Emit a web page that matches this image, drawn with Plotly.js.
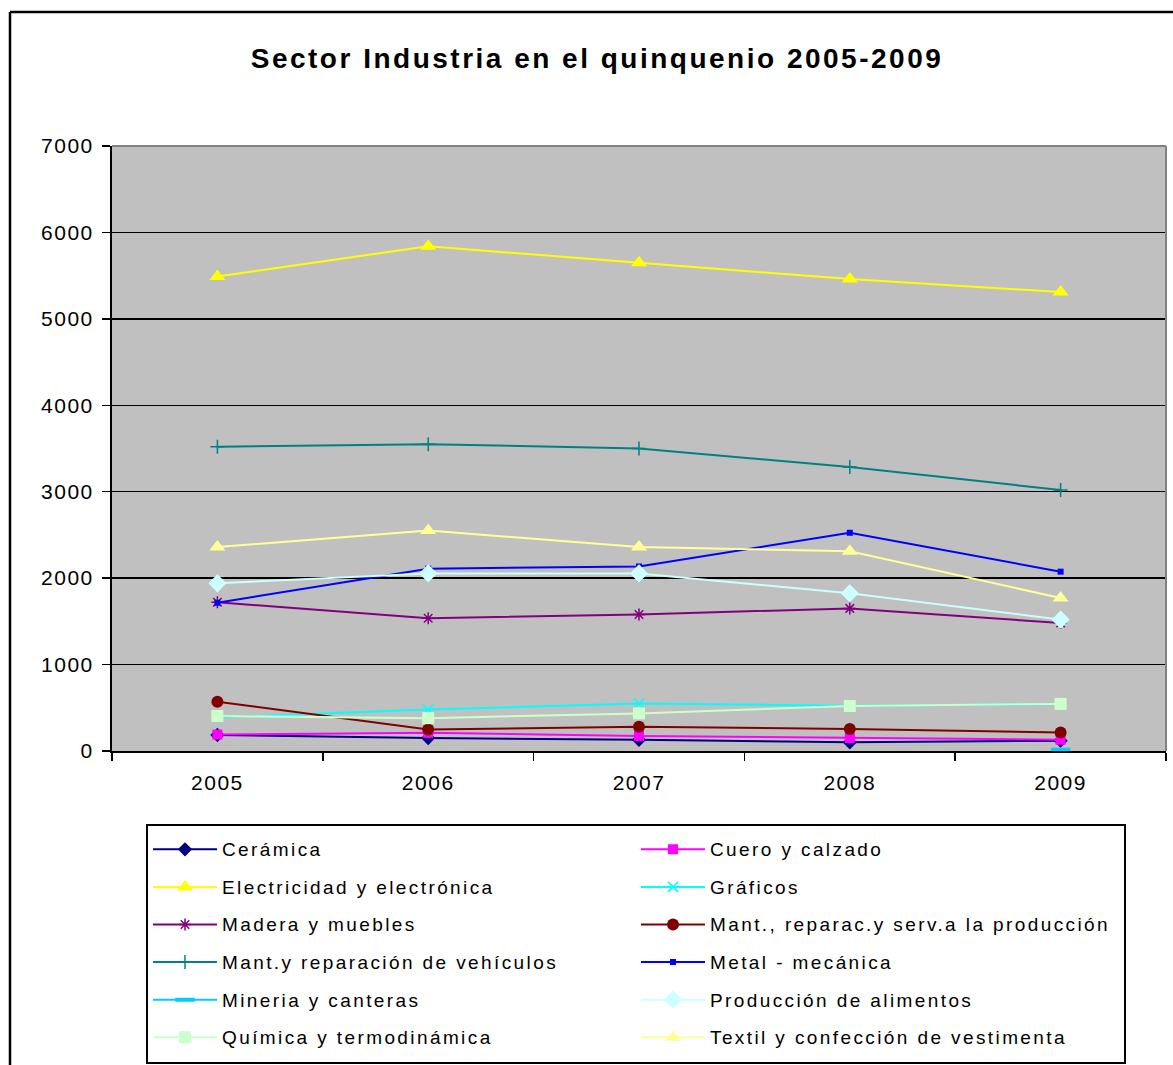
<!DOCTYPE html>
<html><head><meta charset="utf-8">
<script src="https://cdn.plot.ly/plotly-3.0.1.min.js"></script>
<style>
html,body{margin:0;padding:0;background:#fff;}
#chart{width:1173px;height:1065px;}
#chart .legendtext{letter-spacing:2.4px;}
#chart .xtick text,#chart .ytick text{letter-spacing:1.5px;}
#chart .gtitle{letter-spacing:2.5px;}
</style></head><body><div id="chart"></div>
<script>
// ---- data ----
const years = ['2005', '2006', '2007', '2008', '2009'];
const yTickValues = [0, 1000, 2000, 3000, 4000, 5000, 6000, 7000];

const ceramica      = [185, 150, 130, 100, 120];
const cuero         = [190, 210, 175, 150, 130];
const electricidad  = [5490, 5840, 5650, 5460, 5310];
const graficos      = [390, 480, 550, 525, 540];
const madera        = [1720, 1535, 1580, 1650, 1480];
const mantReparac   = [570, 250, 280, 255, 215];
const mantVehiculos = [3520, 3550, 3500, 3285, 3020];
const metal         = [1715, 2110, 2135, 2525, 2075];
const mineria       = [null, null, null, null, 15];
const produccion    = [1940, 2055, 2055, 1825, 1520];
const quimica       = [405, 380, 435, 520, 545];
const textil        = [2360, 2550, 2360, 2310, 1770];

const seriesNames = [
  'Cerámica', 'Cuero y calzado',
  'Electricidad y electrónica', 'Gráficos',
  'Madera y muebles', 'Mant., reparac.y serv.a la producción',
  'Mant.y reparación de vehículos', 'Metal - mecánica',
  'Mineria y canteras', 'Producción de alimentos',
  'Química y termodinámica', 'Textil y confección de vestimenta'
];
const seriesValues = [ceramica, cuero, electricidad, graficos, madera, mantReparac,
  mantVehiculos, metal, mineria, produccion, quimica, textil];

// ---- styles ----
const styles = [
  {color: '#000080', symbol: 'diamond', size: 11},
  {color: '#FF00FF', symbol: 'square', size: 10},
  {color: '#FFFF00', symbol: 'triangle-up', size: 14},
  {color: '#00FFFF', symbol: 'x-thin-open', size: 10, lw: 1.5},
  {color: '#800080', symbol: 'asterisk-open', size: 10, lw: 1.5},
  {color: '#800000', symbol: 'circle', size: 12},
  {color: '#008080', symbol: 'cross-thin-open', size: 10, lw: 1.5},
  {color: '#0000FF', symbol: 'square', size: 6},
  {color: '#00CCFF', symbol: 'line-ew-open', size: 14, lw: 4},
  {color: '#CCFFFF', symbol: 'diamond', size: 14},
  {color: '#CCFFCC', symbol: 'square', size: 12},
  {color: '#FFFF99', symbol: 'triangle-up', size: 14}
];

const FONT = 'Liberation Sans, Arial, sans-serif';
const W = 1173, H = 1065;
const M = {l: 112, r: 7, t: 146, b: 314, autoexpand: false};
const plotW = W - M.l - M.r, plotH = H - M.t - M.b;
const px2x = p => (p - M.l) / plotW;
const py2y = p => (H - M.b - p) / plotH;

// legend rows: 4 text lines of a small base font give the row height;
// the visible label sits on the third line in a 19px span
const LEGEND_BASE = 6.654;
const legendLabel = name =>
  ' <br> <br><span style="font-size:19px">' + name + '</span><br> ';

const traces = seriesNames.map((name, i) => {
  const s = styles[i];
  return {
    type: 'scatter', mode: 'lines+markers',
    x: years, y: seriesValues[i],
    name: legendLabel(name),
    line: {color: s.color, width: 2},
    marker: {symbol: s.symbol, size: s.size, color: s.color,
             line: {color: s.color, width: s.lw || 0}},
    connectgaps: false,
    hoverinfo: 'x+y'
  };
});

const layout = {
  width: W, height: H,
  margin: M,
  paper_bgcolor: '#ffffff',
  plot_bgcolor: '#C0C0C0',
  font: {family: FONT, color: '#000'},
  title: {
    text: 'Sector Industria en el quinquenio 2005-2009',
    font: {family: FONT, size: 28, weight: 'bold', color: '#000'},
    xref: 'container', yref: 'container',
    x: 597 / W, xanchor: 'center',
    y: 1 - 58 / H, yanchor: 'middle'
  },
  xaxis: {
    type: 'category', range: [-0.5, 4.5],
    tickson: 'boundaries', ticks: 'outside', ticklen: 8, tickwidth: 1.5, tickcolor: '#000',
    showline: true, linecolor: '#000', linewidth: 2,
    showgrid: false, zeroline: false,
    tickfont: {family: FONT, size: 21, color: '#000'},
    ticklabelstandoff: 12,
    fixedrange: true
  },
  yaxis: {
    range: [0, 7000], tickvals: yTickValues,
    ticks: 'outside', ticklen: 8, tickwidth: 1.5, tickcolor: '#000',
    showline: true, linecolor: '#000', linewidth: 2,
    showgrid: true, gridcolor: '#000', gridwidth: 1.5,
    zeroline: false,
    tickfont: {family: FONT, size: 21, color: '#000'},
    ticklabelstandoff: 4,
    fixedrange: true
  },
  showlegend: true,
  legend: {
    orientation: 'h',
    x: px2x(146), xanchor: 'left',
    y: py2y(1063.5), yanchor: 'bottom',
    bgcolor: '#ffffff', bordercolor: '#000', borderwidth: 2,
    font: {family: FONT, size: LEGEND_BASE, color: '#000'},
    itemwidth: 64,
    entrywidth: 409, entrywidthmode: 'pixels',
    valign: 'middle',
    traceorder: 'normal'
  },
  shapes: [
    // plot area top and right border (gray)
    {type: 'line', xref: 'paper', yref: 'paper', x0: 0, x1: 1, y0: 1, y1: 1,
     line: {color: '#808080', width: 2}},
    {type: 'line', xref: 'paper', yref: 'paper', x0: 1, x1: 1, y0: 0, y1: 1,
     line: {color: '#808080', width: 2}},
    // outer chart border (left + top)
    {type: 'line', xref: 'paper', yref: 'paper', x0: px2x(10), x1: px2x(10), y0: py2y(12), y1: py2y(1070),
     line: {color: '#000', width: 2.5}},
    {type: 'line', xref: 'paper', yref: 'paper', x0: px2x(10), x1: px2x(1180), y0: py2y(12), y1: py2y(12),
     line: {color: '#000', width: 2.5}}
  ]
};

Plotly.newPlot('chart', traces, layout, {displayModeBar: false, staticPlot: true});
</script>
</body></html>
